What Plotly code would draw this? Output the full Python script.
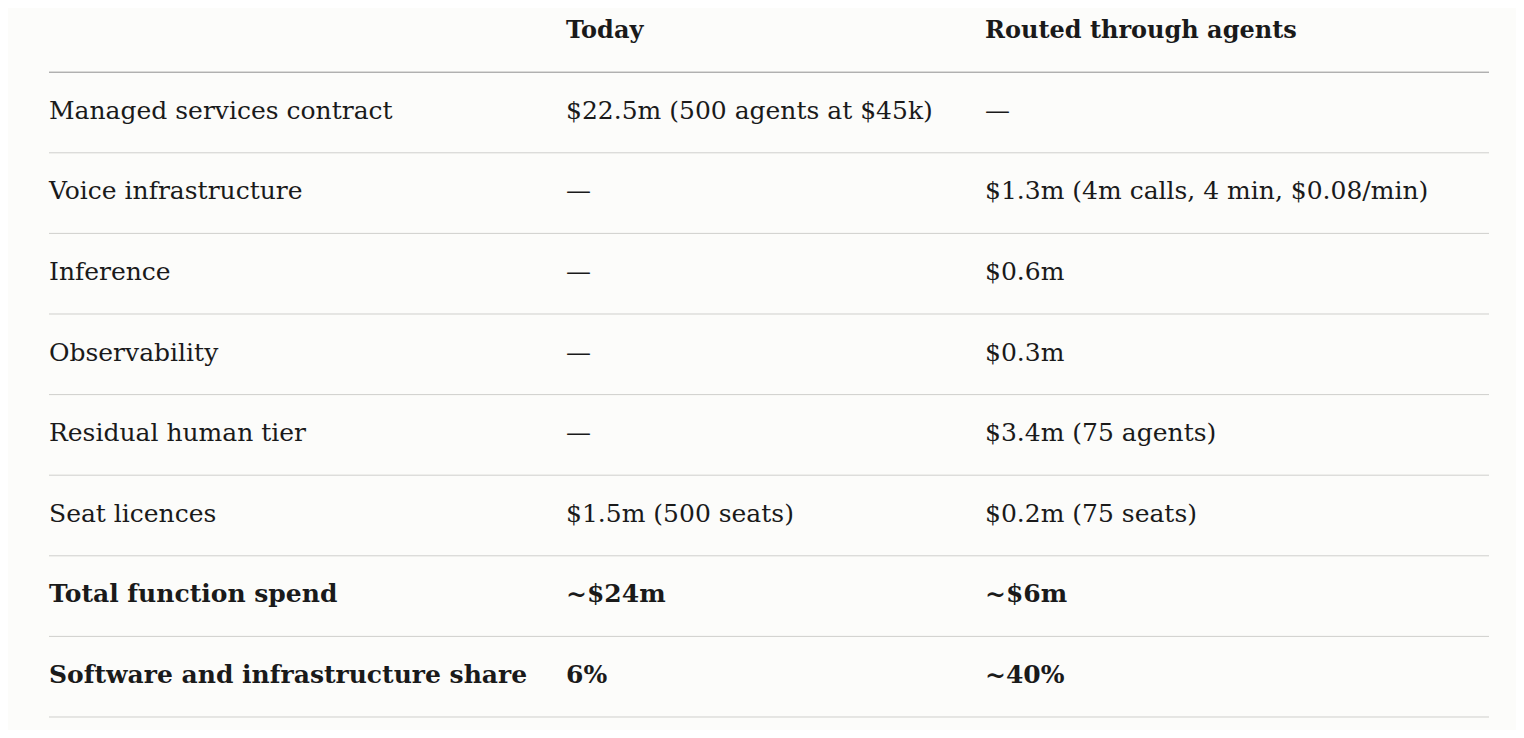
import plotly.graph_objects as go

headers = ["", "Today", "Routed through agents"]
line_items = ["Managed services contract", "Voice infrastructure", "Inference", "Observability",
              "Residual human tier", "Seat licences", "Total function spend",
              "Software and infrastructure share"]
today = ["$22.5m (500 agents at $45k)", "—", "—", "—", "—", "$1.5m (500 seats)", "~$24m", "6%"]
agents = ["—", "$1.3m (4m calls, 4 min, $0.08/min)", "$0.6m", "$0.3m", "$3.4m (75 agents)",
          "$0.2m (75 seats)", "~$6m", "~40%"]
bold_rows = {"Total function spend", "Software and infrastructure share"}

# page body has an 8px margin; map axis units to page pixels
PAD = 8
W, H = 1524 - 2 * PAD, 738 - 2 * PAD
col_x = [49, 566, 985]
header_y = 32
first_row_y = 112.5
row_h = 80.6
font = "DejaVu Serif"
ink = "#1a1a1a"
size = 25

fig = go.Figure()

fig.add_trace(go.Scatter(
    x=col_x[1:], y=[header_y] * 2, mode="text",
    text=[f"<b>{h}</b>" for h in headers[1:]],
    textposition="middle right", textfont=dict(family=font, size=size - 1, color=ink),
    hoverinfo="skip", showlegend=False, cliponaxis=False))

ys = [first_row_y + i * row_h for i in range(len(line_items))]
for cx, col in zip(col_x, [line_items, today, agents]):
    txt = [f"<b>{v}</b>" if item in bold_rows else v for v, item in zip(col, line_items)]
    fig.add_trace(go.Scatter(
        x=[cx] * len(col), y=ys, mode="text", text=txt,
        textposition="middle right", textfont=dict(family=font, size=size, color=ink),
        hoverinfo="skip", showlegend=False, cliponaxis=False))

shapes = []
for i in range(len(line_items) + 1):
    y = first_row_y - row_h / 2 + i * row_h
    shapes.append(dict(type="line", xref="x", yref="y", x0=49, x1=1489, y0=y, y1=y,
                       line=dict(color="#8f8f8f" if i == 0 else "#cfcfcc", width=1)))

fig.update_layout(
    width=W, height=H, margin=dict(l=0, r=0, t=0, b=0),
    paper_bgcolor="#fcfcfa", plot_bgcolor="#fcfcfa", shapes=shapes,
    xaxis=dict(range=[PAD, PAD + W], visible=False, fixedrange=True),
    yaxis=dict(range=[PAD + H, PAD], visible=False, fixedrange=True),
)

fig.write_html("out.html")
